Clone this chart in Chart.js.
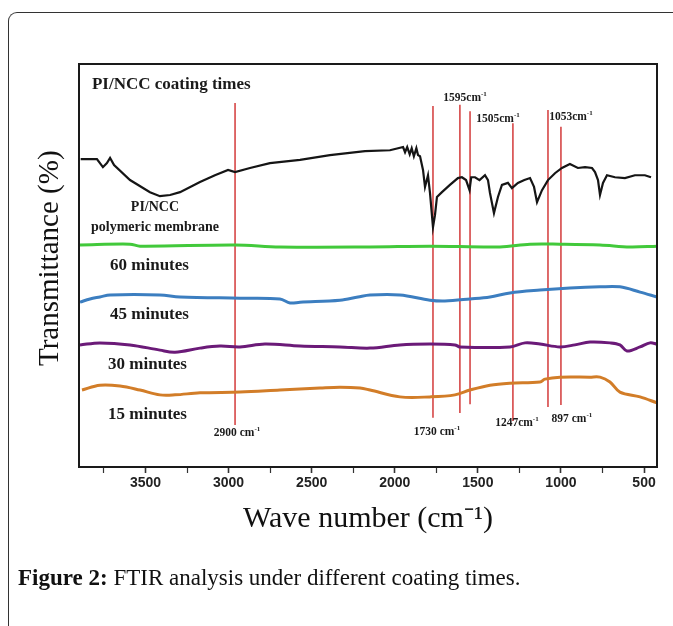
<!DOCTYPE html>
<html lang="en">
<head>
<meta charset="UTF-8">
<title>FTIR analysis under different coating times</title>
<script src="https://cdn.jsdelivr.net/npm/chart.js"></script>
<style>
  html, body { margin: 0; padding: 0; background: #fff; }
  body { width: 673px; height: 626px; position: relative; overflow: hidden; font-family: 'Liberation Serif', serif; }
  .frame { position: absolute; left: 8px; top: 12px; width: 720px; height: 700px; border-left: 1.5px solid #333; border-top: 1.5px solid #333; border-top-left-radius: 9px; }
  #chart { position: absolute; left: 0; top: 0; }
  .caption { position: absolute; left: 18px; top: 564px; font-size: 23px; line-height: 27px; color: #111; white-space: nowrap; }
</style>
</head>
<body>
<div class="frame"></div>
<canvas id="chart" width="673" height="626"></canvas>
<div class="caption"><b>Figure 2:</b> FTIR analysis under different coating times.</div>

<script>
// x axis ticks (wavenumber, cm-1)
const waveTicks = [500, 1000, 1500, 2000, 2500, 3000, 3500];
const minorTicks = [750, 1250, 1750, 2250, 2750, 3250, 3750];

// PI/NCC polymeric membrane (black)
const membraneWn = [3890, 3792, 3756, 3732, 3713, 3689, 3593, 3473, 3413, 3352, 3292, 3172, 3082, 3003, 2961, 2871, 2751, 2570, 2390, 2179,
  2029, 1980, 1950, 1938, 1925, 1910, 1898, 1885, 1870, 1860, 1848, 1830, 1818, 1800, 1788, 1770, 1758, 1746, 1716, 1668,
  1620, 1596, 1571, 1550, 1540, 1517, 1490, 1457, 1439, 1427, 1403, 1379, 1355, 1319, 1295, 1259, 1220, 1186, 1162, 1144,
  1114, 1078, 1036, 994, 946, 898, 855, 813, 795, 777, 765, 747, 723, 675, 615, 555, 495, 458];
const membraneT = [76.4, 76.4, 74.4, 75.4, 76.7, 74.9, 71.2, 68.2, 67.2, 67.5, 68.2, 70.7, 72.4, 73.7, 73.2, 74.2, 75.4, 76.2, 77.4, 78.4,
  78.6, 79.1, 79.4, 78.1, 79.4, 77.6, 79.1, 77.1, 79.1, 77.4, 77.1, 73.7, 69.5, 72.4, 68.0, 59.5, 62.5, 67.0, 68.2, 70.0,
  71.7, 71.9, 71.2, 68.7, 71.9, 71.9, 71.2, 72.4, 71.2, 68.0, 63.0, 67.0, 70.0, 70.5, 69.2, 70.5, 71.2, 71.7, 69.5, 65.7,
  68.7, 71.2, 72.9, 74.2, 75.2, 74.2, 74.4, 74.2, 73.2, 71.2, 67.5, 70.5, 72.4, 71.9, 71.7, 72.4, 72.4, 71.9];

// 60 minutes (green)
const min60Wn = [3894, 3593, 3533, 2961, 2691, 2149, 1788, 1367, 1186, 1006, 765, 585, 422];
const min60T = [55.1, 55.3, 54.8, 55.1, 54.6, 54.6, 54.8, 54.6, 55.3, 55.3, 55.1, 54.6, 54.8];

// 45 minutes (blue)
const min45Wn = [3894, 3834, 3774, 3713, 3413, 3292, 2931, 2691, 2630, 2570, 2330, 2221, 2149, 1969, 1788, 1698, 1547, 1427, 1307, 1126,
  946, 765, 645, 524, 422];
const min45T = [40.9, 41.7, 42.2, 42.7, 42.7, 42.2, 41.9, 41.7, 40.7, 40.9, 41.4, 42.2, 42.7, 42.7, 41.4, 41.2, 41.7, 42.2, 43.2, 43.9,
  44.4, 44.7, 44.7, 43.4, 42.2];

// 30 minutes (purple)
const min30Wn = [3894, 3774, 3593, 3413, 3322, 3172, 3052, 2931, 2781, 2570, 2330, 2149, 1969, 1788, 1638, 1608, 1307, 1216, 1126, 1006,
  916, 825, 705, 645, 603, 524, 464, 422];
const min30T = [30.3, 30.8, 30.3, 29.0, 28.5, 29.5, 30.0, 29.8, 30.5, 30.0, 29.8, 29.5, 30.3, 30.5, 30.3, 29.8, 29.8, 30.8, 30.5, 29.8,
  30.3, 31.0, 30.8, 30.3, 28.8, 29.8, 30.8, 30.5];

// 15 minutes (orange)
const min15Wn = [3882, 3774, 3653, 3533, 3413, 3322, 3172, 2931, 2691, 2450, 2330, 2209, 2149, 1969, 1788, 1638, 1547, 1427, 1307, 1126,
  1096, 1006, 825, 765, 705, 645, 524, 422];
const min15T = [19.1, 20.3, 20.1, 19.1, 17.9, 17.9, 18.4, 18.6, 19.1, 19.6, 19.8, 19.6, 19.1, 17.4, 17.4, 17.9, 19.1, 20.3, 20.8, 21.1,
  21.8, 22.3, 22.3, 22.3, 21.1, 18.6, 17.4, 15.9];

// red marker lines for the bands
const bandWn = [2961, 1770, 1608, 1547, 1289, 1078, 1000];
const bandTop = [90.3, 89.6, 89.9, 88.3, 85.3, 88.6, 84.4];
const bandBottom = [10.4, 12.2, 13.4, 15.6, 11.4, 14.9, 15.4];

// text inside the plot (x = wavenumber, y = transmittance)
const notes = [
  { text: 'PI/NCC coating times', x: 3822, y: 95.0, size: 17, align: 'left' },
  { text: 'PI/NCC', x: 3443, y: 64.3, size: 14 },
  { text: 'polymeric membrane', x: 3443, y: 59.5, size: 14 },
  { text: '60 minutes', x: 3713, y: 49.9, size: 17, align: 'left' },
  { text: '45 minutes', x: 3713, y: 37.7, size: 17, align: 'left' },
  { text: '30 minutes', x: 3725, y: 25.3, size: 17, align: 'left' },
  { text: '15 minutes', x: 3725, y: 13.1, size: 17, align: 'left' },
  { text: '2900 cm^-1', x: 2949, y: 8.4, size: 11.5 },
  { text: '1730 cm^-1', x: 1746, y: 8.7, size: 11.5 },
  { text: '1247cm^-1', x: 1265, y: 10.9, size: 11.5 },
  { text: '897 cm^-1', x: 934, y: 11.9, size: 11.5 },
  { text: '1595cm^-1', x: 1577, y: 91.6, size: 11.5 },
  { text: '1505cm^-1', x: 1379, y: 86.3, size: 11.5 },
  { text: '1053cm^-1', x: 940, y: 86.8, size: 11.5 }
];

const toPoints = (xs, ys) => xs.map((x, i) => ({ x: x, y: ys[i] }));

const datasets = [
  { label: 'PI/NCC polymeric membrane', data: toPoints(membraneWn, membraneT), borderColor: '#151515', borderWidth: 2.2, tension: 0, order: 1 },
  { label: '60 minutes', data: toPoints(min60Wn, min60T), borderColor: '#42c93b', borderWidth: 3, tension: 0.35, order: 1 },
  { label: '45 minutes', data: toPoints(min45Wn, min45T), borderColor: '#3c7ec0', borderWidth: 3, tension: 0.35, order: 1 },
  { label: '30 minutes', data: toPoints(min30Wn, min30T), borderColor: '#6b1a78', borderWidth: 3, tension: 0.35, order: 1 },
  { label: '15 minutes', data: toPoints(min15Wn, min15T), borderColor: '#d27d28', borderWidth: 3, tension: 0.35, order: 1 }
];
bandWn.forEach((wn, i) => {
  datasets.push({
    label: 'band ' + wn,
    data: [{ x: wn, y: bandBottom[i] }, { x: wn, y: bandTop[i] }],
    borderColor: '#d33a3a', borderWidth: 1.5, order: 2
  });
});

// black box round the plot area
const framePlugin = {
  id: 'frame',
  afterDatasetsDraw(chart) {
    const { ctx, chartArea: a } = chart;
    ctx.save();
    ctx.strokeStyle = '#1a1a1a';
    ctx.lineWidth = 2;
    ctx.strokeRect(a.left, a.top, a.right - a.left, a.bottom - a.top);
    ctx.restore();
  }
};

// labels inside the plot, "^" starts a superscript
const notesPlugin = {
  id: 'notes',
  afterDatasetsDraw(chart) {
    const { ctx, scales: { x, y } } = chart;
    ctx.save();
    ctx.fillStyle = '#1a1a1a';
    ctx.textBaseline = 'middle';
    ctx.textAlign = 'left';
    notes.forEach(n => {
      const [base, sup] = n.text.split('^');
      const font = `bold ${n.size}px "Liberation Serif", serif`;
      const supFont = `bold ${Math.round(n.size * 0.65)}px "Liberation Serif", serif`;
      ctx.font = font;
      const wBase = ctx.measureText(base).width;
      ctx.font = supFont;
      const wSup = sup ? ctx.measureText(sup).width : 0;
      let px = x.getPixelForValue(n.x);
      const py = y.getPixelForValue(n.y);
      if (n.align !== 'left') px -= (wBase + wSup) / 2;
      ctx.font = font;
      ctx.fillText(base, px, py);
      if (sup) {
        ctx.font = supFont;
        ctx.fillText(sup, px + wBase, py - n.size * 0.35);
      }
    });
    ctx.restore();
  }
};

new Chart(document.getElementById('chart'), {
  type: 'line',
  data: { datasets: datasets },
  options: {
    responsive: false,
    animation: false,
    layout: { padding: { left: 33, top: 64, right: 16, bottom: 89 } },
    plugins: { legend: { display: false }, tooltip: { enabled: false } },
    elements: { point: { radius: 0 } },
    scales: {
      x: {
        type: 'linear',
        reverse: true,
        min: 422,
        max: 3900,
        afterBuildTicks: s => {
          s.ticks = waveTicks.concat(minorTicks).sort((a, b) => a - b).map(v => ({ value: v }));
        },
        afterFit: s => { s.height = 70; },
        grid: {
          drawOnChartArea: false,
          tickLength: 6,
          color: '#333',
          tickWidth: ctx => waveTicks.includes(ctx.tick.value) ? 1.6 : 1.2
        },
        border: { display: false },
        ticks: {
          autoSkip: false,
          maxRotation: 0,
          padding: 2,
          color: '#222',
          font: { family: 'Liberation Sans', size: 14, weight: 'bold' },
          callback: v => waveTicks.includes(v) ? String(v) : ''
        },
        title: {
          display: true,
          text: 'Wave number (cm⁻¹)',
          color: '#111',
          font: { family: 'Liberation Serif', size: 30 },
          padding: 0
        }
      },
      y: {
        min: 0,
        max: 100,
        afterFit: s => { s.width = 46; },
        grid: { display: false },
        border: { display: false },
        ticks: { display: false },
        title: {
          display: true,
          // en space in front nudges the rotated title a little upward
          text: '\u2002Transmittance (%)',
          color: '#111',
          font: { family: 'Liberation Serif', size: 29 },
          padding: 0
        }
      }
    }
  },
  plugins: [framePlugin, notesPlugin]
});
</script>
</body>
</html>
